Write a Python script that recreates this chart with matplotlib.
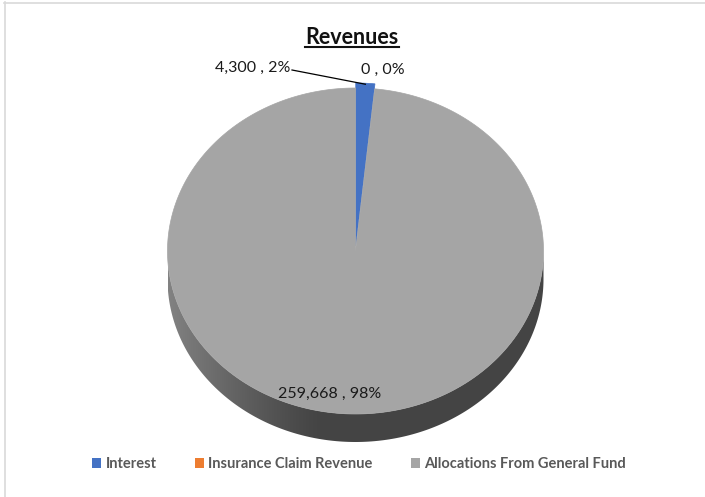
import numpy as np
import matplotlib.pyplot as plt
from matplotlib.patches import Polygon, Patch

categories = ["Interest", "Insurance Claim Revenue", "Allocations From General Fund"]
values = [4300, 0, 259668]
colors = ["#4472C4", "#ED7D31", "#A5A5A5"]
explode = [5, 0, 0]

plt.rcParams["font.family"] = ["Lato", "DejaVu Sans"]

W, H = 705, 497
fig = plt.figure(figsize=(W / 100, H / 100), dpi=100)
ax = fig.add_axes([0, 0, 1, 1])
ax.set_xlim(0, W)
ax.set_ylim(H, 0)
ax.axis("off")

# chart area border (top and left visible)
ax.plot([4, W + 5], [2.5, 2.5], color="#d9d9d9", lw=1.2)
ax.plot([4.5, 4.5], [2, H + 5], color="#d9d9d9", lw=1.2)

# 3d pie geometry
cx, cy, rx, ry, depth = 355.5, 251, 188, 163, 28

total = sum(values)
fracs = np.array(values) / total
edges = np.concatenate([[0], np.cumsum(fracs)]) * 2 * np.pi


def rim(t, dy=0.0, ox=0.0, oy=0.0):
    return cx + ox + rx * np.sin(t), cy + oy + dy - ry * np.cos(t)


# gradient used for the pie wall
grad_x = np.linspace(0, 1, 400)
shade = 0.27 + 0.24 * np.clip(1 - grad_x / 0.4, 0, 1) ** 1.2
grad = np.dstack([shade, shade, shade]).reshape(1, -1, 3)

offsets = []
for i, v in enumerate(values):
    a, b = edges[i], edges[i + 1]
    mid = (a + b) / 2
    offsets.append((explode[i] * np.sin(mid), -explode[i] * np.cos(mid)))

# walls (front half only)
for i, v in enumerate(values):
    if v == 0:
        continue
    a, b = edges[i], edges[i + 1]
    lo, hi = max(a, np.pi / 2), min(b, 3 * np.pi / 2)
    if hi <= lo:
        continue
    ox, oy = offsets[i]
    t = np.linspace(lo, hi, 200)
    xt, yt = rim(t, 0, ox, oy)
    xb, yb = rim(t[::-1], depth, ox, oy)
    poly = Polygon(np.column_stack([np.r_[xt, xb], np.r_[yt, yb]]),
                   closed=True, facecolor="none", edgecolor="none")
    ax.add_patch(poly)
    im = ax.imshow(grad, extent=[cx - rx, cx + rx, cy + ry + depth, cy - 5],
                   aspect="auto", zorder=1)
    im.set_clip_path(poly)

# top faces
for i, v in enumerate(values):
    if v == 0:
        continue
    a, b = edges[i], edges[i + 1]
    ox, oy = offsets[i]
    t = np.linspace(a, b, max(int(400 * fracs[i]), 4))
    xt, yt = rim(t, 0, ox, oy)
    pts = np.column_stack([np.r_[cx + ox, xt], np.r_[cy + oy, yt]])
    ax.add_patch(Polygon(pts, closed=True, facecolor=colors[i],
                         edgecolor=colors[i], lw=0.5, zorder=2))

# data labels
pct = [round(100 * f) for f in fracs]
lab = [f"{v:,} , {p}%" for v, p in zip(values, pct)]
ax.text(290, 68, lab[0], ha="right", va="center", fontsize=11.5, color="#1a1a1a")
mid0 = (edges[0] + edges[1]) / 2
lx, ly = rim(mid0, 0, *offsets[0])
ax.plot([292, lx], [70, ly + 1], color="black", lw=0.9, zorder=3)
ax.text(361, 70, lab[1], ha="left", va="center", fontsize=11.5, color="#1a1a1a")
ax.text(330, 394, lab[2], ha="center", va="center", fontsize=11.5, color="#1a1a1a",
        zorder=3)

# title, underlined
title = ax.text(352, 44, "Revenues", ha="center", va="baseline",
                fontsize=15.5, fontweight="bold", color="#111111")
fig.canvas.draw()
bb = title.get_window_extent().transformed(ax.transData.inverted())
ax.plot([bb.x0, bb.x1], [47, 47], color="#111111", lw=1.5)

# legend
handles = [Patch(facecolor=c, edgecolor="none") for c in colors]
leg = ax.legend(handles, categories, loc="center", bbox_to_anchor=(359 / W, 1 - 464 / H),
                ncol=3, frameon=False, handlelength=0.65, handleheight=0.65,
                handletextpad=0.3, columnspacing=2.6,
                prop={"weight": "bold", "size": 10.5})
for txt in leg.get_texts():
    txt.set_color("#595959")

fig.savefig("out.png", dpi=100)
